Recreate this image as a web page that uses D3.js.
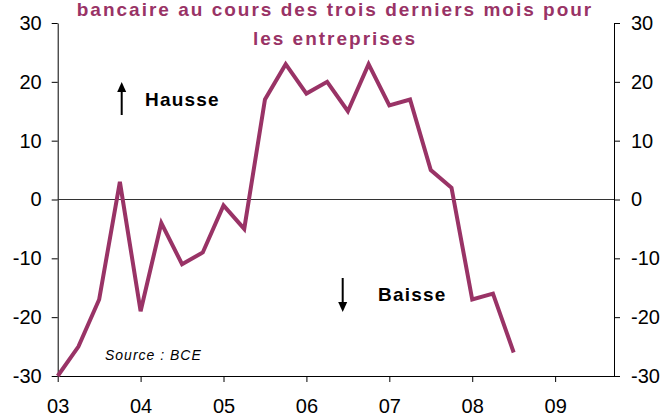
<!DOCTYPE html>
<html>
<head>
<meta charset="utf-8">
<script src="https://cdn.jsdelivr.net/npm/d3@7"></script>
<style>
  body { margin: 0; background: #fff; }
  svg { display: block; font-family: "Liberation Sans", Arial, sans-serif; }
</style>
</head>
<body>
<div id="container"></div>
<script>
// quarterly survey balance, 2003 Q1 -> 2008 Q3
const quarters = ['2003T1','2003T2','2003T3','2003T4','2004T1','2004T2','2004T3','2004T4',
                  '2005T1','2005T2','2005T3','2005T4','2006T1','2006T2','2006T3','2006T4',
                  '2007T1','2007T2','2007T3','2007T4','2008T1','2008T2','2008T3'];
const values = [-30, -25, -17, 3, -19, -4, -11, -9,
                -1, -5, 17, 23, 18, 20, 15, 23,
                16, 17, 5, 2, -17, -16, -26];

const yearTicks = [2003, 2004, 2005, 2006, 2007, 2008, 2009];
const yearLabels = ['03', '04', '05', '06', '07', '08', '09'];
const yTicks = [-30, -20, -10, 0, 10, 20, 30];

const titleLines = ['bancaire au cours des trois derniers mois pour', 'les entreprises'];

// chart dimensions
const w = 663;
const h = 417;
const padLeft = 57.7, padRight = 614, padTop = 23, padBottom = 376;
const purple = '#993366';

const toYear = (q) => +q.slice(0, 4) + (+q.slice(5) - 1) / 4;
const data = quarters.map((q, i) => [toYear(q), values[i]]);

const xScale = d3.scaleLinear()
                .domain([2003, 2009.71])
                .range([padLeft, padRight]);

const yScale = d3.scaleLinear()
                .domain([-30, 30])
                .range([padBottom, padTop]);

const svg = d3.select('#container')
                .append('svg')
                .attr('width', w)
                .attr('height', h);

// axes (plain hyphen for negatives, like the original)
const fmt = (d) => String(d);
const yAxisL = d3.axisLeft(yScale).tickValues(yTicks).tickFormat(fmt)
                .tickSize(6).tickSizeOuter(0).tickPadding(10);
const yAxisR = d3.axisRight(yScale).tickValues(yTicks).tickFormat(fmt)
                .tickSize(6).tickSizeOuter(0).tickPadding(11);
const xAxis = d3.axisBottom(xScale).tickValues(yearTicks).tickSize(6).tickSizeOuter(0)
                .tickPadding(17).tickFormat((d, i) => yearLabels[i]);

function styleAxis(g) {
    g.selectAll('path, line').attr('stroke', '#000').attr('stroke-width', 1);
    g.selectAll('text').attr('font-size', 20).attr('fill', '#000')
        .attr('font-family', '"Liberation Sans", Arial, sans-serif');
}

svg.append('g')
    .attr('transform', `translate(${padLeft}, 0)`)
    .call(yAxisL).call(styleAxis);

svg.append('g')
    .attr('transform', `translate(${padRight}, 0)`)
    .call(yAxisR).call(styleAxis);

svg.append('g')
    .attr('transform', `translate(0, ${padBottom})`)
    .call(xAxis).call(styleAxis);

// zero line
svg.append('line')
    .attr('x1', padLeft).attr('x2', padRight)
    .attr('y1', yScale(0)).attr('y2', yScale(0))
    .attr('stroke', '#333').attr('stroke-width', 1);

// series
const line = d3.line()
                .x((d) => xScale(d[0]))
                .y((d) => yScale(d[1]));

svg.append('path')
    .datum(data)
    .attr('d', line)
    .attr('fill', 'none')
    .attr('stroke', purple)
    .attr('stroke-width', 4)
    .attr('stroke-linejoin', 'miter');

// title (top line cut by the frame)
svg.append('text')
    .attr('x', 335)
    .attr('text-anchor', 'middle')
    .attr('font-size', 19)
    .attr('font-weight', 'bold')
    .attr('letter-spacing', 2)
    .attr('fill', purple)
    .selectAll('tspan')
    .data(titleLines)
    .join('tspan')
    .attr('x', 335)
    .attr('y', (d, i) => 16 + i * 29)
    .text((d) => d);

// arrows and labels
function arrow(x, y1, y2) {
    const dir = y2 < y1 ? -1 : 1;
    svg.append('line')
        .attr('x1', x).attr('x2', x)
        .attr('y1', y1).attr('y2', y2 - dir * 8)
        .attr('stroke', '#000').attr('stroke-width', 2);
    svg.append('path')
        .attr('d', `M${x - 4.5},${y2 - dir * 10}L${x + 4.5},${y2 - dir * 10}L${x},${y2}Z`)
        .attr('fill', '#000');
}

arrow(121.7, 115, 82);
arrow(342.7, 278, 312);

svg.append('text')
    .attr('x', 145).attr('y', 106)
    .attr('font-size', 19).attr('font-weight', 'bold').attr('letter-spacing', 1.2)
    .text('Hausse');

svg.append('text')
    .attr('x', 378).attr('y', 301)
    .attr('font-size', 19).attr('font-weight', 'bold').attr('letter-spacing', 1.2)
    .text('Baisse');

svg.append('text')
    .attr('x', 105).attr('y', 360)
    .attr('font-size', 14).attr('font-style', 'italic').attr('letter-spacing', 1)
    .text('Source : BCE');
</script>
</body>
</html>
